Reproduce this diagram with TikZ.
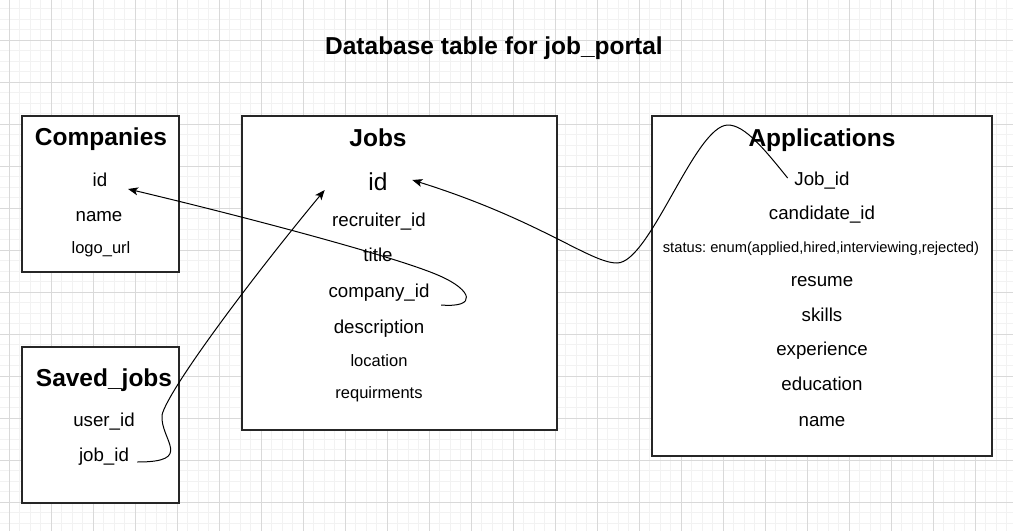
\documentclass[tikz,border=0pt]{standalone}
\usepackage{fontspec}
\setmainfont{Liberation Sans}
\frenchspacing
\usetikzlibrary{arrows.meta,calc,positioning}

\begin{document}
\begin{tikzpicture}[x=1pt,y=-1pt,>={Stealth[length=10pt,width=8pt,inset=2.5pt]},semithick]
\tikzstyle{table box}=[rectangle,draw=black!85,line width=1.2pt,fill=white]
\tikzstyle{head node}=[font=\fontsize{24.5}{29}\selectfont\bfseries,inner sep=1,anchor=base]

\tikzset{
	field node/.style={font=\fontsize{18.7}{22}\selectfont,inner sep=1,anchor=base},
	big node/.style={font=\fontsize{24.5}{29}\selectfont,inner sep=1,anchor=base},
	small node/.style={font=\fontsize{16.5}{20}\selectfont,inner sep=1,anchor=base},
	tiny node/.style={font=\fontsize{14.7}{18}\selectfont,inner sep=1,anchor=base},
	minor line/.style={draw=black!5,line width=1pt},
	major line/.style={draw=black!15,line width=1pt},
	link/.style={->,line width=1pt}
}

      % background grid
      \useasboundingbox (0,0) rectangle (1013,531);
      \fill[white] (0,0) rectangle (1013,531);
      \foreach \gx in {9.3,19.8,...,1013} \draw[minor line] (\gx,0) -- (\gx,531);
      \foreach \gy in {-1.7,8.8,...,531} \draw[minor line] (0,\gy) -- (1013,\gy);
      \foreach \gx in {9.3,51.3,...,1013} \draw[major line] (\gx,0) -- (\gx,531);
      \foreach \gy in {40.3,82.3,...,531} \draw[major line] (0,\gy) -- (1013,\gy);

      \node[head node] (title) at (494,54.3) {Database table for job\_portal};

      % tables
      \node[table box,minimum width=157,minimum height=156] (companies) at (100.5,194) {};
      \node[table box,minimum width=315,minimum height=314] (jobs) at (399.5,273) {};
      \node[table box,minimum width=340,minimum height=340] (applications) at (822,286) {};
      \node[table box,minimum width=157,minimum height=156] (saved) at (100.5,425) {};

      \node[head node] (comphead) at (101,145.7) {Companies};
      \node[field node] (compid) at (100,186.7) {id};
      \node[field node] (compname) at (99,221.7) {name};
      \node[small node] (complogo) at (101,253.3) {logo\_url};

      \node[head node] (jobshead) at (378,146.7) {Jobs};
      \node[big node] (jobsid) at (378,190.7) {id};
      \node[field node] (jobsrec) at (379,226.7) {recruiter\_id};
      \node[field node] (jobstitle) at (378,261.7) {title};
      \node[field node] (jobscomp) at (379,297.3) {company\_id};
      \node[field node] (jobsdesc) at (379,333.3) {description};
      \node[small node] (jobsloc) at (379,366.7) {location};
      \node[small node] (jobsreq) at (379,398.3) {requirments};

      \node[head node] (apphead) at (822,146.7) {Applications};
      \node[field node] (appjob) at (822,185) {Job\_id};
      \node[field node] (appcand) at (822,219.3) {candidate\_id};
      \node[tiny node] (appstatus) at (821,252) {status: enum(applied,hired,interviewing,rejected)};
      \node[field node] (appresume) at (822,286) {resume};
      \node[field node] (appskills) at (822,321) {skills};
      \node[field node] (appexp) at (822,355) {experience};
      \node[field node] (appedu) at (822,390.7) {education};
      \node[field node] (appname) at (822,426) {name};

      \node[head node] (savedhead) at (104,386) {Saved\_jobs};
      \node[field node] (saveduser) at (104,426.7) {user\_id};
      \node[field node] (savedjob) at (104,461.7) {job\_id};

      % links
      \draw[link] ($(jobscomp.base east)+(10.5,7.7)$) .. controls (478,308) and (472,290) .. (440,276)
                  .. controls (400,258) and (250,218) .. ($(compid.base east)+(19.5,2.3)$);
      \draw[link] ($(savedjob.base east)+(7,0.3)$) .. controls (195,462) and (160,440) .. (162,415)
                  .. controls (168,390) and (250,280) .. ($(jobsid.base west)+(-42.5,-0.7)$);
      \draw[link] ($(appjob.base west)+(-5.5,-7)$) .. controls (765,150) and (745,125) .. (728,125)
                  .. controls (695,125) and (650,263) .. (617,263)
                  .. controls (590,263) and (540,220) .. ($(jobsid.base east)+(23.5,-10.7)$);
\end{tikzpicture}
\end{document}
